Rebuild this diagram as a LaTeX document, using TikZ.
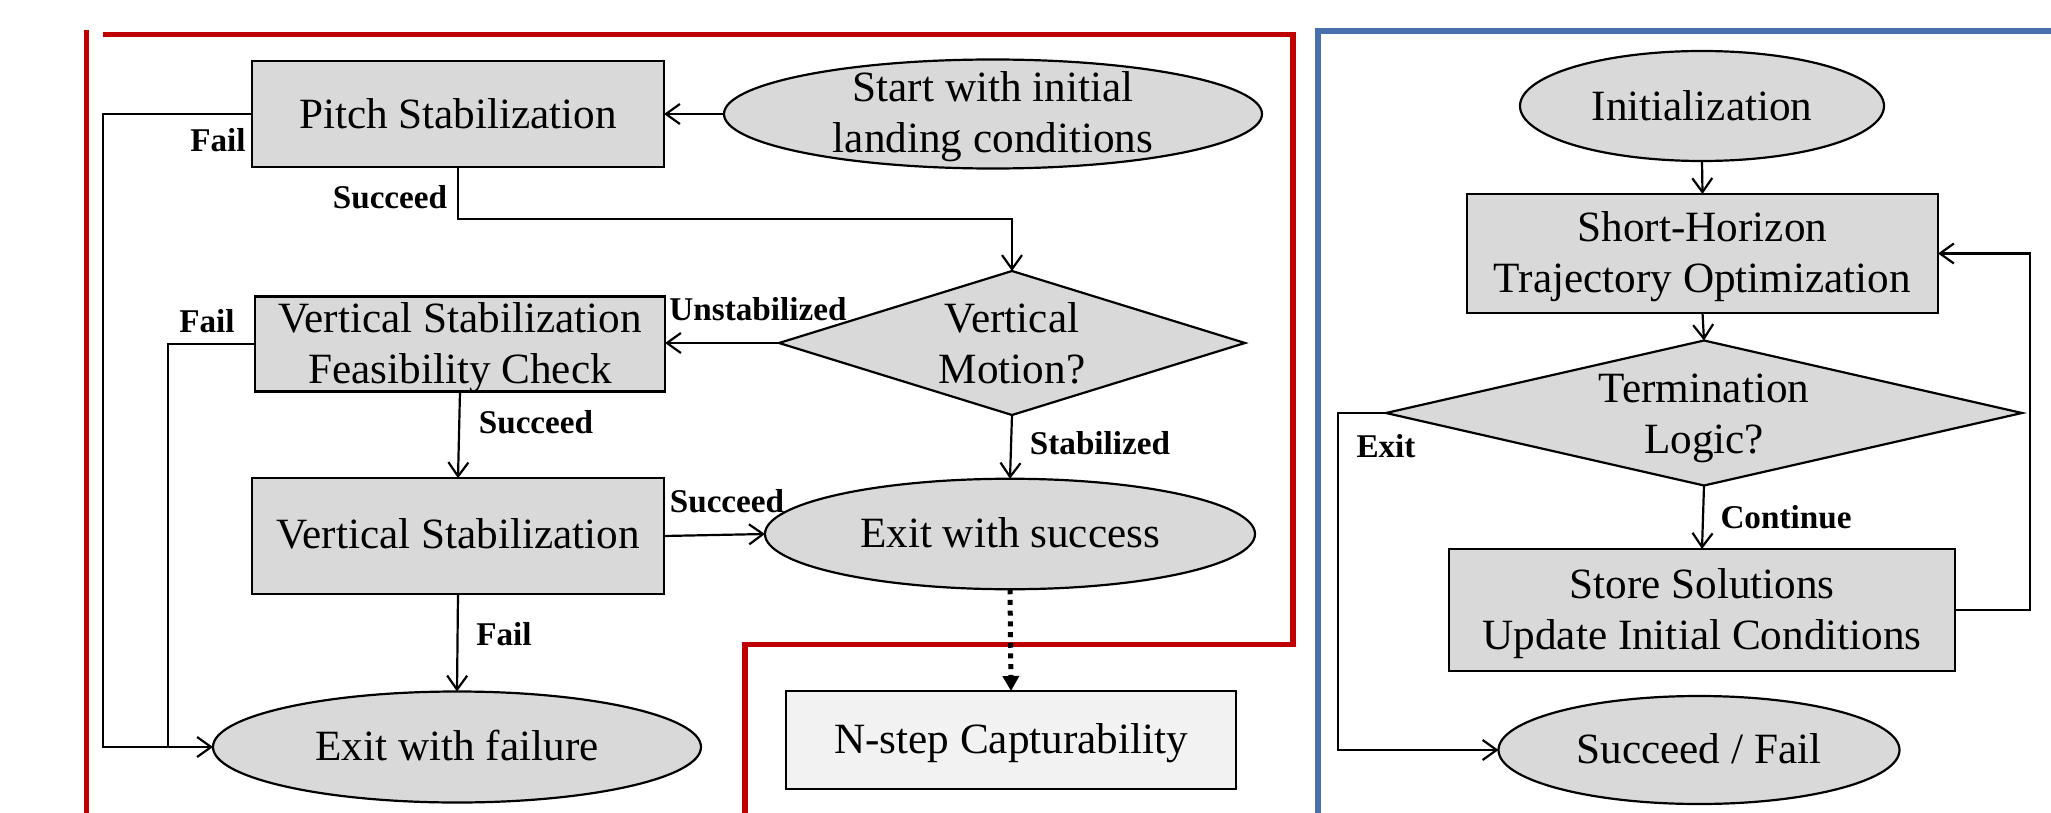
\documentclass[tikz,border=0pt]{standalone}
\usepackage{fontspec}
\setmainfont{Liberation Serif}
\usetikzlibrary{shapes.geometric, arrows.meta}

\definecolor{boxgray}{RGB}{217,217,217}
\definecolor{lightbox}{RGB}{242,242,242}
\definecolor{framered}{RGB}{192,0,0}
\definecolor{frameblue}{RGB}{72,112,172}

\newcommand\mainsize{\fontsize{21.6pt}{25.5pt}\selectfont}
\newcommand\tagsize{\fontsize{16.6pt}{20pt}\selectfont\bfseries}

\begin{document}
\begin{tikzpicture}[x=0.5pt, y=-0.5pt,
  shapebase/.style={draw=black, line width=1.1pt, fill=boxgray, inner sep=0pt, outer sep=0pt},
  procbox/.style={shapebase, rectangle},
  termbox/.style={shapebase, ellipse},
  decbox/.style={shapebase, diamond, shape aspect=3},
  caption/.style={font=\mainsize, align=center, inner sep=0pt, anchor=base},
  tag/.style={font=\tagsize, inner sep=0pt},
  flow/.style={line width=1.1pt, -{Straight Barb[length=7pt,width=10pt]}},
  link/.style={line width=1.1pt},
  dotflow/.style={line width=2.5pt, dash pattern=on 2.5pt off 2.85pt, -{Triangle[length=7.5pt,width=8pt]}},
  redframe/.style={draw=framered, line width=2.75pt},
  blueframe/.style={draw=frameblue, line width=2.75pt},
]
\useasboundingbox (0,0) rectangle (2051,813);

% panel frames
\draw[redframe] (86.5,30) -- (86.5,830);
\draw[redframe, line join=miter] (103,34.5) -- (1293,34.5) -- (1293,644.5) -- (745,644.5) -- (745,830);
\draw[blueframe, line join=miter] (1318,830) -- (1318,31) -- (2070,31);

% ---------- landing controller (left panel) ----------
\node[procbox, minimum width=206pt, minimum height=53pt] (pitch) at (458,114) {};
\node[termbox, minimum width=269pt, minimum height=54.5pt] (start) at (993,114) {};
\node[procbox, minimum width=205pt, minimum height=47.5pt] (vsfc) at (460,344) {};
\node[decbox, minimum width=233pt, minimum height=72pt] (vm) at (1012,343) {};
\node[procbox, minimum width=206pt, minimum height=57.8pt] (vs) at (458,536) {};
\node[termbox, minimum width=245pt, minimum height=55.25pt] (succ) at (1010,534) {};
\node[termbox, minimum width=244pt, minimum height=55.5pt] (fail) at (457,747) {};
\node[procbox, fill=lightbox, minimum width=225pt, minimum height=49pt] (nstep) at (1011,740) {};

% captions: the base anchor of a two-line caption sits on its last line
\node[caption] (pitch-t) at (458,128.3) {Pitch Stabilization};
\node[caption] (start-t) at (993,153) {Start with initial\\landing conditions};
\node[caption] (vsfc-t) at (460,383.7) {Vertical Stabilization\\Feasibility Check};
\node[caption] (vm-t) at (1012,383.7) {Vertical\\Motion?};
\node[caption] (vs-t) at (458,548.7) {Vertical Stabilization};
\node[caption] (succ-t) at (1010,547.7) {Exit with success};
\node[caption] (fail-t) at (457,760.6) {Exit with failure};
\node[caption] (nstep-t) at (1011,753.8) {N-step Capturability};

\coordinate (railA) at (103,747);
\coordinate (railB) at (168,747);
\coordinate (bend) at (458,219);

\draw[flow] (start.west) -- (pitch.east);
\draw[flow] (pitch.west) -| (railA) -- (fail.west);
\draw[link] (vsfc.west) -| (railB);
\draw[flow] (pitch.south) -- (bend) -| (vm.north);
\draw[flow] (vm.west) -- (vm.west -| vsfc.east);
\draw[flow] (vsfc.south) -- (vs.north);
\draw[flow] (vs.east) -- (succ.west);
\draw[flow] (vm.south) -- (succ.north);
\draw[flow] (vs.south) -- (fail.north);
\draw[dotflow] (succ.south) -- (nstep.north);

\node[tag] (l-fail1) at (218,140) {Fail};
\node[tag] (l-succ1) at (390,197) {Succeed};
\node[tag] (l-fail2) at (207,321) {Fail};
\node[tag] (l-unst) at (758,309) {Unstabilized};
\node[tag] (l-succ2) at (536,422) {Succeed};
\node[tag] (l-succ3) at (727,501) {Succeed};
\node[tag] (l-stab) at (1100,443) {Stabilized};
\node[tag] (l-fail3) at (504,634) {Fail};

% ---------- trajectory optimisation loop (right panel) ----------
\node[termbox, minimum width=182pt, minimum height=55pt] (init) at (1702,106) {};
\node[procbox, minimum width=235.5pt, minimum height=59.5pt] (sh) at (1702.5,253.5) {};
\node[decbox, shape aspect=4.4, minimum width=318pt, minimum height=72.5pt] (tl) at (1704,413) {};
\node[procbox, minimum width=253pt, minimum height=61pt] (store) at (1702,610) {};
\node[termbox, minimum width=200.5pt, minimum height=54pt] (sf) at (1699,750) {};

\node[caption] (init-t) at (1702,120) {Initialization};
\node[caption] (sh-t) at (1702.5,292.7) {Short-Horizon\\Trajectory Optimization};
\node[caption] (tl-t) at (1704,453.5) {Termination\\Logic?};
\node[caption] (store-t) at (1702,649) {Store Solutions\\Update Initial Conditions};
\node[caption] (sf-t) at (1699,763) {Succeed / Fail};

\coordinate (loopR) at (2030,610);
\coordinate (exitL) at (1338,413);

\draw[flow] (init.south) -- (sh.north);
\draw[flow] (sh.south) -- (tl.north);
\draw[flow] (tl.south) -- (store.north);
\draw[flow] (store.east) -- (loopR) |- (sh.east);
\draw[flow] (tl.west) -- (exitL) |- (sf.west);

\node[tag] (l-exit) at (1386,446) {Exit};
\node[tag] (l-cont) at (1786,517) {Continue};
\end{tikzpicture}
\end{document}
